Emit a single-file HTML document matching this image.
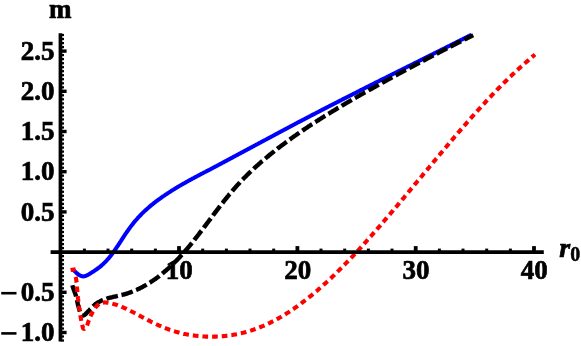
<!DOCTYPE html>
<html><head><meta charset="utf-8"><style>
html,body{margin:0;padding:0;background:#fff;}
svg{display:block;will-change:transform}
text{font-family:"Liberation Serif",serif;font-weight:bold;font-size:27px;fill:#000;stroke:#000;stroke-width:0.7px}
</style></head><body>
<svg width="581" height="346" viewBox="0 0 581 346">
<rect width="581" height="346" fill="#fff"/>
<g fill="none" stroke-linejoin="round">
<path d="M72.8,269.4 L73.4,270.0 L74.0,270.5 L74.6,271.1 L75.2,271.7 L75.8,272.3 L76.5,272.9 L77.1,273.4 L77.7,274.0 L78.4,274.5 L79.1,274.9 L79.7,275.3 L80.4,275.7 L81.1,276.0 L81.8,276.2 L82.5,276.3 L83.2,276.4 L83.9,276.3 L84.5,276.2 L85.2,276.0 L85.9,275.8 L86.6,275.5 L87.3,275.2 L88.0,274.8 L88.7,274.4 L89.4,274.0 L90.1,273.6 L90.8,273.1 L91.5,272.7 L92.2,272.2 L92.9,271.8 L93.6,271.3 L94.3,270.8 L94.9,270.4 L95.6,269.9 L96.3,269.5 L97.0,269.0 L97.6,268.5 L98.3,268.0 L98.9,267.6 L99.5,267.1 L100.2,266.6 L100.8,266.1 L101.4,265.6 L102.0,265.0 L102.6,264.5 L103.2,264.0 L103.8,263.4 L104.3,262.9 L104.9,262.3 L105.5,261.8 L106.0,261.2 L106.6,260.6 L107.1,260.0 L107.6,259.4 L108.1,258.9 L108.7,258.3 L109.2,257.6 L109.7,257.0 L110.2,256.4 L110.7,255.8 L111.2,255.2 L111.7,254.5 L112.1,253.9 L112.6,253.3 L113.1,252.6 L113.5,252.0 L114.0,251.3 L114.5,250.7 L114.9,250.0 L115.4,249.4 L115.8,248.7 L116.3,248.0 L116.7,247.4 L117.2,246.7 L117.6,246.0 L118.1,245.4 L118.5,244.7 L118.9,244.0 L119.4,243.4 L119.8,242.7 L120.2,242.0 L120.7,241.3 L121.1,240.7 L121.6,240.0 L122.0,239.3 L122.4,238.7 L122.9,238.0 L123.3,237.3 L123.7,236.7 L124.2,236.0 L124.6,235.3 L125.0,234.7 L125.5,234.0 L125.9,233.3 L126.4,232.7 L126.8,232.0 L127.3,231.4 L127.7,230.7 L128.2,230.1 L128.6,229.5 L129.1,228.8 L129.5,228.2 L130.0,227.6 L130.5,226.9 L130.9,226.3 L131.4,225.7 L131.9,225.1 L132.4,224.5 L132.9,223.9 L133.3,223.2 L133.8,222.6 L134.3,222.0 L134.8,221.4 L135.3,220.8 L135.8,220.3 L136.3,219.7 L136.9,219.1 L137.4,218.5 L137.9,217.9 L138.4,217.3 L139.0,216.8 L139.5,216.2 L140.0,215.6 L140.6,215.1 L141.1,214.5 L141.7,213.9 L142.2,213.4 L142.8,212.8 L143.4,212.3 L144.0,211.7 L144.5,211.2 L145.1,210.6 L145.7,210.1 L146.3,209.6 L146.9,209.0 L147.5,208.5 L148.1,208.0 L148.7,207.5 L149.3,206.9 L149.9,206.4 L150.5,205.9 L151.1,205.4 L151.7,204.9 L152.4,204.4 L153.0,203.9 L153.6,203.4 L154.2,202.9 L154.9,202.4 L155.5,201.9 L156.1,201.4 L156.8,200.9 L157.4,200.4 L158.1,200.0 L158.7,199.5 L159.4,199.0 L160.0,198.6 L160.7,198.1 L161.3,197.6 L162.0,197.2 L162.6,196.7 L163.3,196.2 L163.9,195.8 L164.6,195.3 L165.2,194.9 L165.9,194.4 L166.6,194.0 L167.2,193.6 L167.9,193.1 L168.6,192.7 L169.2,192.3 L169.9,191.8 L170.6,191.4 L171.2,191.0 L171.9,190.6 L172.6,190.1 L173.3,189.7 L173.9,189.3 L174.6,188.9 L175.3,188.5 L176.0,188.1 L176.7,187.6 L177.3,187.2 L178.0,186.8 L178.7,186.4 L179.4,186.0 L180.1,185.6 L180.8,185.2 L181.4,184.8 L182.1,184.4 L182.8,184.0 L183.5,183.6 L184.2,183.3 L184.9,182.9 L185.6,182.5 L186.3,182.1 L187.0,181.7 L187.7,181.3 L188.3,180.9 L189.0,180.5 L189.7,180.2 L190.4,179.8 L191.1,179.4 L191.8,179.0 L192.5,178.6 L193.2,178.3 L193.9,177.9 L194.6,177.5 L195.3,177.1 L196.0,176.8 L196.7,176.4 L197.4,176.0 L198.1,175.7 L198.8,175.3 L199.5,174.9 L200.2,174.5 L200.9,174.2 L201.6,173.8 L202.3,173.4 L203.0,173.1 L203.7,172.7 L204.4,172.3 L205.1,172.0 L205.9,171.6 L206.6,171.2 L207.3,170.9 L208.0,170.5 L208.7,170.1 L209.4,169.8 L210.1,169.4 L210.8,169.0 L211.5,168.7 L212.2,168.3 L212.9,167.9 L213.6,167.5 L214.3,167.2 L215.0,166.8 L215.7,166.4 L216.4,166.1 L217.1,165.7 L217.8,165.3 L218.5,165.0 L219.2,164.6 L219.9,164.2 L220.6,163.8 L221.3,163.5 L222.0,163.1 L222.7,162.7 L223.4,162.4 L224.1,162.0 L224.8,161.6 L225.5,161.2 L226.2,160.9 L226.9,160.5 L227.6,160.1 L228.3,159.7 L229.0,159.4 L229.7,159.0 L230.4,158.6 L231.1,158.2 L231.8,157.9 L232.5,157.5 L233.2,157.1 L233.9,156.7 L234.6,156.4 L235.3,156.0 L236.0,155.6 L236.7,155.2 L237.4,154.9 L238.1,154.5 L238.8,154.1 L239.5,153.7 L240.2,153.4 L240.9,153.0 L241.6,152.6 L242.3,152.2 L243.0,151.9 L243.7,151.5 L244.4,151.1 L245.1,150.7 L245.8,150.4 L246.5,150.0 L247.2,149.6 L247.9,149.2 L248.6,148.9 L249.3,148.5 L250.0,148.1 L250.7,147.7 L251.4,147.4 L252.1,147.0 L252.8,146.6 L253.5,146.2 L254.2,145.8 L254.9,145.5 L255.6,145.1 L256.3,144.7 L257.0,144.3 L257.7,144.0 L258.4,143.6 L259.1,143.2 L259.8,142.8 L260.5,142.5 L261.2,142.1 L261.9,141.7 L262.6,141.3 L263.3,140.9 L264.0,140.6 L264.7,140.2 L265.5,139.8 L266.2,139.4 L266.9,139.1 L267.6,138.7 L268.3,138.3 L269.0,137.9 L269.7,137.6 L270.4,137.2 L271.1,136.8 L271.8,136.4 L272.5,136.1 L273.2,135.7 L273.9,135.3 L274.6,134.9 L275.3,134.5 L276.0,134.2 L276.7,133.8 L277.4,133.4 L278.1,133.0 L278.8,132.7 L279.5,132.3 L280.2,131.9 L280.9,131.5 L281.6,131.2 L282.3,130.8 L283.0,130.4 L283.7,130.0 L284.4,129.7 L285.1,129.3 L285.8,128.9 L286.5,128.6 L287.2,128.2 L287.9,127.8 L288.6,127.4 L289.3,127.1 L290.0,126.7 L290.7,126.3 L291.4,125.9 L292.1,125.6 L292.8,125.2 L293.5,124.8 L294.2,124.5 L294.9,124.1 L295.6,123.7 L296.3,123.3 L297.0,123.0 L297.7,122.6 L298.4,122.2 L299.1,121.9 L299.8,121.5 L300.5,121.1 L301.2,120.8 L301.9,120.4 L302.6,120.0 L303.4,119.6 L304.1,119.3 L304.8,118.9 L305.5,118.5 L306.2,118.2 L306.9,117.8 L307.6,117.4 L308.3,117.1 L309.0,116.7 L309.7,116.3 L310.4,116.0 L311.1,115.6 L311.8,115.2 L312.5,114.9 L313.2,114.5 L313.9,114.1 L314.6,113.8 L315.3,113.4 L316.0,113.0 L316.7,112.7 L317.5,112.3 L318.2,111.9 L318.9,111.6 L319.6,111.2 L320.3,110.8 L321.0,110.5 L321.7,110.1 L322.4,109.7 L323.1,109.4 L323.8,109.0 L324.5,108.7 L325.2,108.3 L325.9,107.9 L326.6,107.6 L327.3,107.2 L328.0,106.8 L328.8,106.5 L329.5,106.1 L330.2,105.7 L330.9,105.4 L331.6,105.0 L332.3,104.7 L333.0,104.3 L333.7,103.9 L334.4,103.6 L335.1,103.2 L335.8,102.8 L336.5,102.5 L337.2,102.1 L337.9,101.8 L338.7,101.4 L339.4,101.0 L340.1,100.7 L340.8,100.3 L341.5,100.0 L342.2,99.6 L342.9,99.2 L343.6,98.9 L344.3,98.5 L345.0,98.1 L345.7,97.8 L346.4,97.4 L347.2,97.1 L347.9,96.7 L348.6,96.3 L349.3,96.0 L350.0,95.6 L350.7,95.3 L351.4,94.9 L352.1,94.6 L352.8,94.2 L353.5,93.8 L354.2,93.5 L354.9,93.1 L355.7,92.8 L356.4,92.4 L357.1,92.0 L357.8,91.7 L358.5,91.3 L359.2,91.0 L359.9,90.6 L360.6,90.2 L361.3,89.9 L362.0,89.5 L362.8,89.2 L363.5,88.8 L364.2,88.5 L364.9,88.1 L365.6,87.7 L366.3,87.4 L367.0,87.0 L367.7,86.7 L368.4,86.3 L369.1,86.0 L369.8,85.6 L370.6,85.2 L371.3,84.9 L372.0,84.5 L372.7,84.2 L373.4,83.8 L374.1,83.5 L374.8,83.1 L375.5,82.7 L376.2,82.4 L376.9,82.0 L377.7,81.7 L378.4,81.3 L379.1,81.0 L379.8,80.6 L380.5,80.2 L381.2,79.9 L381.9,79.5 L382.6,79.2 L383.3,78.8 L384.1,78.5 L384.8,78.1 L385.5,77.8 L386.2,77.4 L386.9,77.0 L387.6,76.7 L388.3,76.3 L389.0,76.0 L389.7,75.6 L390.4,75.3 L391.2,74.9 L391.9,74.6 L392.6,74.2 L393.3,73.8 L394.0,73.5 L394.7,73.1 L395.4,72.8 L396.1,72.4 L396.8,72.1 L397.6,71.7 L398.3,71.4 L399.0,71.0 L399.7,70.6 L400.4,70.3 L401.1,69.9 L401.8,69.6 L402.5,69.2 L403.2,68.9 L404.0,68.5 L404.7,68.2 L405.4,67.8 L406.1,67.4 L406.8,67.1 L407.5,66.7 L408.2,66.4 L408.9,66.0 L409.6,65.7 L410.4,65.3 L411.1,65.0 L411.8,64.6 L412.5,64.3 L413.2,63.9 L413.9,63.5 L414.6,63.2 L415.3,62.8 L416.0,62.5 L416.8,62.1 L417.5,61.8 L418.2,61.4 L418.9,61.1 L419.6,60.7 L420.3,60.3 L421.0,60.0 L421.7,59.6 L422.4,59.3 L423.2,58.9 L423.9,58.6 L424.6,58.2 L425.3,57.9 L426.0,57.5 L426.7,57.2 L427.4,56.8 L428.1,56.4 L428.8,56.1 L429.6,55.7 L430.3,55.4 L431.0,55.0 L431.7,54.7 L432.4,54.3 L433.1,54.0 L433.8,53.6 L434.5,53.2 L435.2,52.9 L436.0,52.5 L436.7,52.2 L437.4,51.8 L438.1,51.5 L438.8,51.1 L439.5,50.8 L440.2,50.4 L440.9,50.0 L441.6,49.7 L442.3,49.3 L443.1,49.0 L443.8,48.6 L444.5,48.3 L445.2,47.9 L445.9,47.6 L446.6,47.2 L447.3,46.8 L448.0,46.5 L448.7,46.1 L449.5,45.8 L450.2,45.4 L450.9,45.1 L451.6,44.7 L452.3,44.3 L453.0,44.0 L453.7,43.6 L454.4,43.3 L455.1,42.9 L455.9,42.6 L456.6,42.2 L457.3,41.9 L458.0,41.5 L458.7,41.1 L459.4,40.8 L460.1,40.4 L460.8,40.1 L461.5,39.7 L462.2,39.4 L463.0,39.0 L463.7,38.6 L464.4,38.3 L465.1,37.9 L465.8,37.6 L466.5,37.2 L467.2,36.8 L467.9,36.5 L468.6,36.1 L469.3,35.8 L470.1,35.4 L470.8,35.1 L471.5,34.7" stroke="#0000ff" stroke-width="4"/>
<path d="M72.4,285.3 L72.6,286.1 L72.9,287.0 L73.1,287.8 L73.4,288.6 L73.7,289.5 L74.0,290.3 L74.3,291.1 L74.6,292.0 L74.9,292.8 L75.2,293.6 L75.5,294.5 L75.8,295.3 L76.0,296.1 L76.2,296.9 L76.4,297.7 L76.6,298.5 L76.8,299.3 L77.0,300.1 L77.2,300.9 L77.4,301.8 L77.5,302.6 L77.7,303.4 L77.9,304.3 L78.1,305.1 L78.3,306.0 L78.6,306.9 L78.8,307.8 L79.1,308.7 L79.3,309.6 L79.6,310.5 L80.0,311.5 L80.3,312.5 L80.7,313.3 L81.2,314.1 L81.6,314.8 L82.1,315.2 L82.7,315.5 L83.2,315.5 L83.8,315.4 L84.4,315.1 L85.0,314.6 L85.7,314.0 L86.3,313.4 L86.9,312.7 L87.5,312.1 L88.2,311.4 L88.8,310.8 L89.4,310.1 L90.0,309.4 L90.7,308.8 L91.3,308.1 L91.9,307.5 L92.6,306.8 L93.2,306.2 L93.9,305.6 L94.6,305.0 L95.2,304.4 L95.9,303.9 L96.6,303.4 L97.4,302.9 L98.1,302.4 L98.8,302.0 L99.6,301.6 L100.3,301.2 L101.1,300.8 L101.9,300.4 L102.6,300.1 L103.4,299.8 L104.2,299.5 L105.0,299.2 L105.8,298.9 L106.6,298.6 L107.5,298.4 L108.3,298.2 L109.1,297.9 L110.0,297.7 L110.8,297.5 L111.6,297.3 L112.5,297.1 L113.3,296.9 L114.2,296.7 L115.1,296.5 L115.9,296.3 L116.8,296.1 L117.6,295.9 L118.5,295.7 L119.3,295.5 L120.2,295.3 L121.0,295.1 L121.9,294.9 L122.7,294.7 L123.6,294.5 L124.4,294.3 L125.3,294.0 L126.1,293.8 L127.0,293.5 L127.8,293.3 L128.6,293.0 L129.4,292.7 L130.3,292.4 L131.1,292.1 L131.9,291.8 L132.7,291.5 L133.5,291.2 L134.3,290.8 L135.1,290.5 L135.9,290.1 L136.7,289.8 L137.5,289.4 L138.3,289.0 L139.1,288.7 L139.9,288.3 L140.7,287.9 L141.5,287.5 L142.2,287.1 L143.0,286.7 L143.8,286.2 L144.5,285.8 L145.3,285.4 L146.0,285.0 L146.8,284.5 L147.5,284.1 L148.3,283.6 L149.0,283.1 L149.8,282.7 L150.5,282.2 L151.2,281.7 L152.0,281.2 L152.7,280.8 L153.4,280.3 L154.1,279.8 L154.8,279.3 L155.6,278.8 L156.3,278.2 L157.0,277.7 L157.7,277.2 L158.4,276.7 L159.0,276.2 L159.7,275.6 L160.4,275.1 L161.1,274.5 L161.8,274.0 L162.4,273.5 L163.1,272.9 L163.8,272.3 L164.4,271.8 L165.1,271.2 L165.7,270.7 L166.4,270.1 L167.0,269.5 L167.7,269.0 L168.3,268.4 L169.0,267.8 L169.6,267.2 L170.2,266.6 L170.9,266.0 L171.5,265.4 L172.1,264.8 L172.7,264.2 L173.4,263.6 L174.0,263.0 L174.6,262.4 L175.2,261.8 L175.8,261.2 L176.4,260.6 L177.0,260.0 L177.6,259.3 L178.2,258.7 L178.8,258.1 L179.4,257.5 L180.0,256.8 L180.5,256.2 L181.1,255.6 L181.7,254.9 L182.3,254.3 L182.9,253.6 L183.4,253.0 L184.0,252.3 L184.6,251.7 L185.1,251.0 L185.7,250.4 L186.3,249.7 L186.8,249.1 L187.4,248.4 L188.0,247.8 L188.5,247.1 L189.1,246.4 L189.6,245.8 L190.2,245.1 L190.7,244.4 L191.3,243.7 L191.8,243.1 L192.4,242.4 L192.9,241.7 L193.4,241.0 L194.0,240.4 L194.5,239.7 L195.1,239.0 L195.6,238.3 L196.1,237.6 L196.7,237.0 L197.2,236.3 L197.7,235.6 L198.3,234.9 L198.8,234.2 L199.3,233.5 L199.9,232.8 L200.4,232.1 L200.9,231.4 L201.5,230.8 L202.0,230.1 L202.5,229.4 L203.0,228.7 L203.6,228.0 L204.1,227.3 L204.6,226.6 L205.1,225.9 L205.7,225.2 L206.2,224.5 L206.7,223.8 L207.2,223.1 L207.8,222.4 L208.3,221.7 L208.8,221.0 L209.3,220.3 L209.9,219.6 L210.4,218.9 L210.9,218.2 L211.4,217.5 L212.0,216.8 L212.5,216.1 L213.0,215.4 L213.5,214.7 L214.1,214.0 L214.6,213.3 L215.1,212.6 L215.6,211.9 L216.2,211.2 L216.7,210.5 L217.2,209.8 L217.8,209.1 L218.3,208.4 L218.8,207.7 L219.4,207.0 L219.9,206.3 L220.4,205.6 L221.0,205.0 L221.5,204.3 L222.0,203.6 L222.6,202.9 L223.1,202.2 L223.7,201.5 L224.2,200.8 L224.7,200.1 L225.3,199.5 L225.8,198.8 L226.4,198.1 L226.9,197.4 L227.5,196.7 L228.0,196.1 L228.6,195.4 L229.1,194.7 L229.7,194.0 L230.3,193.4 L230.8,192.7 L231.4,192.0 L232.0,191.4 L232.5,190.7 L233.1,190.0 L233.7,189.4 L234.2,188.7 L234.8,188.1 L235.4,187.4 L236.0,186.7 L236.5,186.1 L237.1,185.4 L237.7,184.8 L238.3,184.2 L238.9,183.5 L239.5,182.9 L240.1,182.2 L240.7,181.6 L241.3,181.0 L241.9,180.3 L242.5,179.7 L243.1,179.1 L243.7,178.4 L244.3,177.8 L244.9,177.2 L245.6,176.6 L246.2,176.0 L246.8,175.3 L247.4,174.7 L248.0,174.1 L248.7,173.5 L249.3,172.9 L249.9,172.3 L250.6,171.7 L251.2,171.1 L251.8,170.5 L252.5,169.9 L253.1,169.3 L253.7,168.7 L254.4,168.1 L255.0,167.5 L255.7,166.9 L256.3,166.3 L257.0,165.7 L257.6,165.2 L258.3,164.6 L258.9,164.0 L259.6,163.4 L260.3,162.8 L260.9,162.3 L261.6,161.7 L262.2,161.1 L262.9,160.6 L263.6,160.0 L264.2,159.4 L264.9,158.9 L265.6,158.3 L266.2,157.7 L266.9,157.2 L267.6,156.6 L268.3,156.1 L268.9,155.5 L269.6,154.9 L270.3,154.4 L271.0,153.8 L271.7,153.3 L272.3,152.8 L273.0,152.2 L273.7,151.7 L274.4,151.1 L275.1,150.6 L275.8,150.0 L276.5,149.5 L277.1,149.0 L277.8,148.4 L278.5,147.9 L279.2,147.4 L279.9,146.8 L280.6,146.3 L281.3,145.8 L282.0,145.3 L282.7,144.7 L283.4,144.2 L284.1,143.7 L284.8,143.2 L285.5,142.6 L286.2,142.1 L286.9,141.6 L287.6,141.1 L288.3,140.6 L289.0,140.1 L289.7,139.6 L290.4,139.1 L291.1,138.5 L291.8,138.0 L292.5,137.5 L293.2,137.0 L293.9,136.5 L294.6,136.0 L295.3,135.5 L296.1,135.0 L296.8,134.5 L297.5,134.0 L298.2,133.5 L298.9,133.0 L299.6,132.5 L300.3,132.1 L301.0,131.6 L301.8,131.1 L302.5,130.6 L303.2,130.1 L303.9,129.6 L304.6,129.1 L305.4,128.6 L306.1,128.2 L306.8,127.7 L307.5,127.2 L308.2,126.7 L309.0,126.2 L309.7,125.8 L310.4,125.3 L311.1,124.8 L311.9,124.3 L312.6,123.9 L313.3,123.4 L314.0,122.9 L314.8,122.4 L315.5,122.0 L316.2,121.5 L316.9,121.0 L317.7,120.6 L318.4,120.1 L319.1,119.6 L319.9,119.2 L320.6,118.7 L321.3,118.2 L322.1,117.8 L322.8,117.3 L323.5,116.9 L324.3,116.4 L325.0,115.9 L325.7,115.5 L326.5,115.0 L327.2,114.6 L327.9,114.1 L328.7,113.7 L329.4,113.2 L330.2,112.8 L330.9,112.3 L331.6,111.9 L332.4,111.4 L333.1,111.0 L333.9,110.5 L334.6,110.1 L335.3,109.6 L336.1,109.2 L336.8,108.7 L337.6,108.3 L338.3,107.8 L339.1,107.4 L339.8,106.9 L340.6,106.5 L341.3,106.1 L342.0,105.6 L342.8,105.2 L343.5,104.7 L344.3,104.3 L345.0,103.9 L345.8,103.4 L346.5,103.0 L347.3,102.5 L348.0,102.1 L348.8,101.7 L349.5,101.2 L350.3,100.8 L351.0,100.4 L351.8,99.9 L352.6,99.5 L353.3,99.1 L354.1,98.6 L354.8,98.2 L355.6,97.8 L356.3,97.3 L357.1,96.9 L357.8,96.5 L358.6,96.0 L359.3,95.6 L360.1,95.2 L360.9,94.7 L361.6,94.3 L362.4,93.9 L363.1,93.5 L363.9,93.0 L364.6,92.6 L365.4,92.2 L366.2,91.7 L366.9,91.3 L367.7,90.9 L368.4,90.5 L369.2,90.0 L370.0,89.6 L370.7,89.2 L371.5,88.8 L372.3,88.3 L373.0,87.9 L373.8,87.5 L374.5,87.1 L375.3,86.6 L376.1,86.2 L376.8,85.8 L377.6,85.4 L378.4,84.9 L379.1,84.5 L379.9,84.1 L380.7,83.7 L381.4,83.3 L382.2,82.8 L382.9,82.4 L383.7,82.0 L384.5,81.6 L385.2,81.1 L386.0,80.7 L386.8,80.3 L387.5,79.9 L388.3,79.5 L389.1,79.0 L389.8,78.6 L390.6,78.2 L391.4,77.8 L392.2,77.4 L392.9,77.0 L393.7,76.5 L394.5,76.1 L395.2,75.7 L396.0,75.3 L396.8,74.9 L397.5,74.4 L398.3,74.0 L399.1,73.6 L399.8,73.2 L400.6,72.8 L401.4,72.4 L402.2,72.0 L402.9,71.5 L403.7,71.1 L404.5,70.7 L405.2,70.3 L406.0,69.9 L406.8,69.5 L407.6,69.1 L408.3,68.6 L409.1,68.2 L409.9,67.8 L410.6,67.4 L411.4,67.0 L412.2,66.6 L413.0,66.2 L413.7,65.8 L414.5,65.4 L415.3,64.9 L416.0,64.5 L416.8,64.1 L417.6,63.7 L418.4,63.3 L419.1,62.9 L419.9,62.5 L420.7,62.1 L421.5,61.7 L422.2,61.3 L423.0,60.9 L423.8,60.5 L424.6,60.1 L425.3,59.6 L426.1,59.2 L426.9,58.8 L427.6,58.4 L428.4,58.0 L429.2,57.6 L430.0,57.2 L430.7,56.8 L431.5,56.4 L432.3,56.0 L433.1,55.6 L433.8,55.2 L434.6,54.8 L435.4,54.4 L436.2,54.0 L436.9,53.6 L437.7,53.2 L438.5,52.8 L439.2,52.4 L440.0,52.0 L440.8,51.6 L441.6,51.2 L442.3,50.8 L443.1,50.4 L443.9,50.0 L444.7,49.6 L445.4,49.2 L446.2,48.8 L447.0,48.4 L447.7,48.0 L448.5,47.6 L449.3,47.2 L450.1,46.9 L450.8,46.5 L451.6,46.1 L452.4,45.7 L453.1,45.3 L453.9,44.9 L454.7,44.5 L455.5,44.1 L456.2,43.7 L457.0,43.3 L457.8,42.9 L458.5,42.5 L459.3,42.1 L460.1,41.8 L460.9,41.4 L461.6,41.0 L462.4,40.6 L463.2,40.2 L463.9,39.8 L464.7,39.4 L465.5,39.0 L466.2,38.7 L467.0,38.3 L467.8,37.9 L468.6,37.5 L469.3,37.1 L470.1,36.7 L470.9,36.3 L471.6,36.0 L472.4,35.6 L473.2,35.2" stroke="#000" stroke-width="4.4" stroke-dasharray="11.8 3.7"/>
<path d="M74.7,273.7 L75.1,274.7 L75.4,275.7 L75.6,276.7 L75.9,277.8 L76.1,278.9 L76.3,280.0 L76.4,281.1 L76.5,282.2 L76.7,283.3 L76.8,284.4 L76.9,285.5 L76.9,286.6 L77.0,287.7 L77.1,288.8 L77.2,289.9 L77.3,291.0 L77.4,292.1 L77.5,293.2 L77.6,294.3 L77.7,295.3 L77.8,296.4 L77.9,297.5 L78.0,298.5 L78.2,299.6 L78.3,300.7 L78.4,301.7 L78.5,302.8 L78.7,303.9 L78.8,304.9 L79.0,306.0 L79.1,307.1 L79.2,308.2 L79.4,309.2 L79.6,310.3 L79.7,311.4 L79.9,312.5 L80.1,313.6 L80.2,314.7 L80.4,315.8 L80.6,316.9 L80.8,318.0 L81.0,319.1 L81.2,320.2 L81.4,321.2 L81.7,322.3 L81.9,323.4 L82.1,324.5 L82.4,325.6 L82.6,326.6 L82.9,327.6 L83.2,328.5 L83.8,328.9 L84.6,328.8 L85.4,328.3 L86.0,327.5 L86.6,326.4 L87.1,325.2 L87.6,323.9 L88.0,322.7 L88.4,321.6 L88.8,320.6 L89.2,319.6 L89.5,318.6 L89.9,317.7 L90.3,316.8 L90.7,315.9 L91.1,315.0 L91.6,314.0 L92.1,313.0 L92.6,312.0 L93.2,311.0 L93.8,310.0 L94.4,309.0 L95.1,308.1 L95.8,307.1 L96.5,306.3 L97.3,305.5 L98.1,304.7 L99.0,304.1 L99.9,303.5 L100.8,303.1 L101.7,302.8 L102.7,302.6 L103.8,302.5 L104.8,302.4 L105.9,302.5 L106.9,302.6 L108.0,302.7 L109.1,302.9 L110.2,303.1 L111.2,303.4 L112.3,303.6 L113.3,303.9 L114.4,304.2 L115.4,304.5 L116.5,304.8 L117.5,305.2 L118.5,305.6 L119.6,305.9 L120.6,306.3 L121.6,306.8 L122.6,307.2 L123.6,307.6 L124.6,308.1 L125.7,308.5 L126.7,309.0 L127.7,309.5 L128.6,310.0 L129.6,310.5 L130.6,311.0 L131.6,311.5 L132.6,312.0 L133.6,312.5 L134.6,313.0 L135.5,313.5 L136.5,314.1 L137.5,314.6 L138.5,315.1 L139.4,315.6 L140.4,316.2 L141.4,316.7 L142.3,317.2 L143.3,317.7 L144.3,318.2 L145.2,318.7 L146.2,319.2 L147.2,319.7 L148.1,320.2 L149.1,320.7 L150.1,321.2 L151.0,321.7 L152.0,322.2 L153.0,322.6 L153.9,323.1 L154.9,323.6 L155.9,324.0 L156.9,324.5 L157.8,324.9 L158.8,325.4 L159.8,325.8 L160.8,326.2 L161.7,326.6 L162.7,327.1 L163.7,327.5 L164.7,327.9 L165.7,328.3 L166.7,328.6 L167.7,329.0 L168.7,329.4 L169.7,329.8 L170.7,330.1 L171.7,330.5 L172.7,330.8 L173.8,331.1 L174.8,331.4 L175.8,331.7 L176.9,332.0 L177.9,332.3 L178.9,332.6 L180.0,332.9 L181.0,333.1 L182.1,333.4 L183.1,333.6 L184.2,333.9 L185.3,334.1 L186.3,334.3 L187.4,334.5 L188.5,334.7 L189.6,334.9 L190.6,335.1 L191.7,335.2 L192.8,335.4 L193.9,335.5 L195.0,335.7 L196.1,335.8 L197.2,335.9 L198.3,336.0 L199.4,336.1 L200.5,336.2 L201.6,336.3 L202.7,336.4 L203.8,336.5 L204.9,336.5 L206.0,336.6 L207.1,336.6 L208.2,336.6 L209.3,336.7 L210.4,336.7 L211.5,336.7 L212.6,336.7 L213.7,336.6 L214.8,336.6 L215.9,336.6 L217.0,336.5 L218.1,336.5 L219.2,336.4 L220.3,336.4 L221.4,336.3 L222.5,336.2 L223.6,336.1 L224.7,336.0 L225.8,335.9 L226.9,335.7 L228.0,335.6 L229.1,335.5 L230.2,335.3 L231.3,335.1 L232.4,335.0 L233.5,334.8 L234.6,334.6 L235.6,334.4 L236.7,334.2 L237.8,334.0 L238.9,333.8 L239.9,333.5 L241.0,333.3 L242.0,333.0 L243.1,332.8 L244.2,332.5 L245.2,332.2 L246.3,331.9 L247.3,331.6 L248.3,331.3 L249.4,331.0 L250.4,330.7 L251.4,330.4 L252.5,330.0 L253.5,329.7 L254.5,329.3 L255.5,329.0 L256.5,328.6 L257.5,328.2 L258.5,327.8 L259.5,327.4 L260.5,327.0 L261.5,326.6 L262.5,326.2 L263.5,325.8 L264.5,325.3 L265.5,324.9 L266.5,324.5 L267.4,324.0 L268.4,323.5 L269.4,323.1 L270.3,322.6 L271.3,322.1 L272.3,321.6 L273.2,321.2 L274.2,320.7 L275.1,320.1 L276.1,319.6 L277.0,319.1 L278.0,318.6 L278.9,318.1 L279.8,317.5 L280.8,317.0 L281.7,316.4 L282.6,315.9 L283.6,315.3 L284.5,314.8 L285.4,314.2 L286.3,313.6 L287.2,313.0 L288.1,312.5 L289.1,311.9 L290.0,311.3 L290.9,310.7 L291.8,310.1 L292.7,309.5 L293.6,308.9 L294.4,308.2 L295.3,307.6 L296.2,307.0 L297.1,306.4 L298.0,305.7 L298.9,305.1 L299.7,304.4 L300.6,303.8 L301.5,303.1 L302.4,302.5 L303.2,301.8 L304.1,301.2 L304.9,300.5 L305.8,299.8 L306.7,299.2 L307.5,298.5 L308.4,297.8 L309.2,297.1 L310.1,296.4 L310.9,295.8 L311.8,295.1 L312.6,294.4 L313.4,293.7 L314.3,293.0 L315.1,292.3 L315.9,291.6 L316.8,290.9 L317.6,290.2 L318.4,289.4 L319.2,288.7 L320.1,288.0 L320.9,287.3 L321.7,286.6 L322.5,285.8 L323.3,285.1 L324.1,284.4 L325.0,283.7 L325.8,282.9 L326.6,282.2 L327.4,281.4 L328.2,280.7 L329.0,280.0 L329.8,279.2 L330.6,278.5 L331.4,277.7 L332.1,277.0 L332.9,276.2 L333.7,275.5 L334.5,274.7 L335.3,273.9 L336.1,273.2 L336.9,272.4 L337.6,271.7 L338.4,270.9 L339.2,270.1 L340.0,269.3 L340.7,268.6 L341.5,267.8 L342.3,267.0 L343.1,266.2 L343.8,265.5 L344.6,264.7 L345.3,263.9 L346.1,263.1 L346.9,262.3 L347.6,261.6 L348.4,260.8 L349.1,260.0 L349.9,259.2 L350.7,258.4 L351.4,257.6 L352.2,256.8 L352.9,256.0 L353.7,255.2 L354.4,254.4 L355.1,253.6 L355.9,252.8 L356.6,252.0 L357.4,251.2 L358.1,250.4 L358.9,249.6 L359.6,248.8 L360.3,248.0 L361.1,247.2 L361.8,246.4 L362.5,245.6 L363.3,244.7 L364.0,243.9 L364.7,243.1 L365.5,242.3 L366.2,241.5 L366.9,240.7 L367.6,239.9 L368.4,239.0 L369.1,238.2 L369.8,237.4 L370.5,236.6 L371.3,235.8 L372.0,235.0 L372.7,234.1 L373.4,233.3 L374.1,232.5 L374.9,231.7 L375.6,230.9 L376.3,230.0 L377.0,229.2 L377.7,228.4 L378.4,227.6 L379.2,226.8 L379.9,225.9 L380.6,225.1 L381.3,224.3 L382.0,223.5 L382.7,222.6 L383.4,221.8 L384.1,221.0 L384.8,220.2 L385.5,219.3 L386.3,218.5 L387.0,217.7 L387.7,216.9 L388.4,216.0 L389.1,215.2 L389.8,214.4 L390.5,213.5 L391.2,212.7 L391.9,211.9 L392.6,211.1 L393.3,210.2 L394.0,209.4 L394.7,208.6 L395.4,207.7 L396.1,206.9 L396.8,206.1 L397.5,205.3 L398.2,204.4 L398.9,203.6 L399.6,202.8 L400.3,201.9 L401.0,201.1 L401.7,200.3 L402.4,199.4 L403.1,198.6 L403.8,197.8 L404.5,196.9 L405.1,196.1 L405.8,195.3 L406.5,194.5 L407.2,193.6 L407.9,192.8 L408.6,192.0 L409.3,191.1 L410.0,190.3 L410.7,189.5 L411.4,188.6 L412.1,187.8 L412.8,187.0 L413.5,186.1 L414.2,185.3 L414.8,184.5 L415.5,183.6 L416.2,182.8 L416.9,182.0 L417.6,181.1 L418.3,180.3 L419.0,179.5 L419.7,178.6 L420.4,177.8 L421.1,177.0 L421.8,176.1 L422.5,175.3 L423.1,174.5 L423.8,173.6 L424.5,172.8 L425.2,172.0 L425.9,171.1 L426.6,170.3 L427.3,169.5 L428.0,168.6 L428.7,167.8 L429.4,167.0 L430.1,166.1 L430.8,165.3 L431.5,164.5 L432.1,163.6 L432.8,162.8 L433.5,162.0 L434.2,161.1 L434.9,160.3 L435.6,159.5 L436.3,158.6 L437.0,157.8 L437.7,157.0 L438.4,156.1 L439.1,155.3 L439.8,154.5 L440.5,153.6 L441.2,152.8 L441.9,152.0 L442.6,151.1 L443.3,150.3 L444.0,149.5 L444.7,148.6 L445.4,147.8 L446.1,147.0 L446.8,146.2 L447.5,145.3 L448.2,144.5 L448.9,143.7 L449.6,142.8 L450.3,142.0 L451.0,141.2 L451.7,140.4 L452.4,139.5 L453.1,138.7 L453.8,137.9 L454.5,137.0 L455.2,136.2 L455.9,135.4 L456.6,134.6 L457.3,133.7 L458.0,132.9 L458.7,132.1 L459.5,131.3 L460.2,130.4 L460.9,129.6 L461.6,128.8 L462.3,128.0 L463.0,127.2 L463.7,126.3 L464.4,125.5 L465.2,124.7 L465.9,123.9 L466.6,123.0 L467.3,122.2 L468.0,121.4 L468.8,120.6 L469.5,119.8 L470.2,118.9 L470.9,118.1 L471.6,117.3 L472.4,116.5 L473.1,115.7 L473.8,114.9 L474.5,114.1 L475.3,113.2 L476.0,112.4 L476.7,111.6 L477.5,110.8 L478.2,110.0 L478.9,109.2 L479.7,108.4 L480.4,107.6 L481.1,106.8 L481.9,106.0 L482.6,105.2 L483.3,104.4 L484.1,103.6 L484.8,102.8 L485.6,102.0 L486.3,101.2 L487.0,100.4 L487.8,99.6 L488.5,98.8 L489.3,98.0 L490.0,97.2 L490.8,96.4 L491.5,95.6 L492.3,94.8 L493.0,94.0 L493.8,93.2 L494.5,92.4 L495.3,91.7 L496.1,90.9 L496.8,90.1 L497.6,89.3 L498.3,88.5 L499.1,87.7 L499.9,87.0 L500.6,86.2 L501.4,85.4 L502.2,84.7 L502.9,83.9 L503.7,83.1 L504.5,82.3 L505.3,81.6 L506.0,80.8 L506.8,80.1 L507.6,79.3 L508.4,78.5 L509.2,77.8 L509.9,77.0 L510.7,76.3 L511.5,75.5 L512.3,74.8 L513.1,74.0 L513.9,73.3 L514.7,72.5 L515.5,71.8 L516.3,71.0 L517.1,70.3 L517.9,69.6 L518.7,68.8 L519.5,68.1 L520.3,67.4 L521.1,66.6 L521.9,65.9 L522.7,65.2 L523.5,64.4 L524.3,63.7 L525.1,63.0 L525.9,62.3 L526.8,61.6 L527.6,60.9 L528.4,60.2 L529.2,59.4 L530.0,58.7 L530.9,58.0 L531.7,57.3 L532.5,56.6 L533.4,55.9 L534.2,55.2 L535.0,54.5" stroke="#ff0000" stroke-width="4.1" stroke-dasharray="5.7 3.97" stroke-dashoffset="6.33"/>
<polygon points="70.3,268.0 75.3,267.2 76.0,271.2 70.9,272.0" fill="#ff0000" stroke="none"/>
</g>
<g stroke="#000" fill="none">
<line x1="50.6" y1="252.1" x2="543.8" y2="252.1" stroke-width="3.8"/>
<line x1="60.45" y1="33.3" x2="60.45" y2="341.5" stroke-width="3.7"/>
<line x1="84.4" y1="252.1" x2="84.4" y2="248.6" stroke-width="3"/><line x1="108.0" y1="252.1" x2="108.0" y2="248.6" stroke-width="3"/><line x1="131.7" y1="252.1" x2="131.7" y2="248.6" stroke-width="3"/><line x1="155.4" y1="252.1" x2="155.4" y2="248.6" stroke-width="3"/><line x1="179.0" y1="252.1" x2="179.0" y2="246.1" stroke-width="3.8"/><line x1="202.7" y1="252.1" x2="202.7" y2="248.6" stroke-width="3"/><line x1="226.4" y1="252.1" x2="226.4" y2="248.6" stroke-width="3"/><line x1="250.0" y1="252.1" x2="250.0" y2="248.6" stroke-width="3"/><line x1="273.7" y1="252.1" x2="273.7" y2="248.6" stroke-width="3"/><line x1="297.4" y1="252.1" x2="297.4" y2="246.1" stroke-width="3.8"/><line x1="321.0" y1="252.1" x2="321.0" y2="248.6" stroke-width="3"/><line x1="344.7" y1="252.1" x2="344.7" y2="248.6" stroke-width="3"/><line x1="368.4" y1="252.1" x2="368.4" y2="248.6" stroke-width="3"/><line x1="392.0" y1="252.1" x2="392.0" y2="248.6" stroke-width="3"/><line x1="415.7" y1="252.1" x2="415.7" y2="246.1" stroke-width="3.8"/><line x1="439.4" y1="252.1" x2="439.4" y2="248.6" stroke-width="3"/><line x1="463.0" y1="252.1" x2="463.0" y2="248.6" stroke-width="3"/><line x1="486.7" y1="252.1" x2="486.7" y2="248.6" stroke-width="3"/><line x1="510.4" y1="252.1" x2="510.4" y2="248.6" stroke-width="3"/><line x1="534.0" y1="252.1" x2="534.0" y2="246.1" stroke-width="3.8"/>
<line x1="60.7" y1="340.5" x2="64.0" y2="340.5" stroke-width="2.2"/><line x1="60.7" y1="336.5" x2="64.0" y2="336.5" stroke-width="2.2"/><line x1="60.7" y1="332.5" x2="66.6" y2="332.5" stroke-width="3.4"/><line x1="60.7" y1="328.5" x2="64.0" y2="328.5" stroke-width="2.2"/><line x1="60.7" y1="324.5" x2="64.0" y2="324.5" stroke-width="2.2"/><line x1="60.7" y1="320.4" x2="64.0" y2="320.4" stroke-width="2.2"/><line x1="60.7" y1="316.4" x2="64.0" y2="316.4" stroke-width="2.2"/><line x1="60.7" y1="312.4" x2="64.0" y2="312.4" stroke-width="2.2"/><line x1="60.7" y1="308.4" x2="64.0" y2="308.4" stroke-width="2.2"/><line x1="60.7" y1="304.4" x2="64.0" y2="304.4" stroke-width="2.2"/><line x1="60.7" y1="300.3" x2="64.0" y2="300.3" stroke-width="2.2"/><line x1="60.7" y1="296.3" x2="64.0" y2="296.3" stroke-width="2.2"/><line x1="60.7" y1="292.3" x2="66.6" y2="292.3" stroke-width="3.4"/><line x1="60.7" y1="288.3" x2="64.0" y2="288.3" stroke-width="2.2"/><line x1="60.7" y1="284.3" x2="64.0" y2="284.3" stroke-width="2.2"/><line x1="60.7" y1="280.2" x2="64.0" y2="280.2" stroke-width="2.2"/><line x1="60.7" y1="276.2" x2="64.0" y2="276.2" stroke-width="2.2"/><line x1="60.7" y1="272.2" x2="64.0" y2="272.2" stroke-width="2.2"/><line x1="60.7" y1="268.2" x2="64.0" y2="268.2" stroke-width="2.2"/><line x1="60.7" y1="264.2" x2="64.0" y2="264.2" stroke-width="2.2"/><line x1="60.7" y1="260.1" x2="64.0" y2="260.1" stroke-width="2.2"/><line x1="60.7" y1="256.1" x2="64.0" y2="256.1" stroke-width="2.2"/><line x1="60.7" y1="248.1" x2="64.0" y2="248.1" stroke-width="2.2"/><line x1="60.7" y1="244.1" x2="64.0" y2="244.1" stroke-width="2.2"/><line x1="60.7" y1="240.0" x2="64.0" y2="240.0" stroke-width="2.2"/><line x1="60.7" y1="236.0" x2="64.0" y2="236.0" stroke-width="2.2"/><line x1="60.7" y1="232.0" x2="64.0" y2="232.0" stroke-width="2.2"/><line x1="60.7" y1="228.0" x2="64.0" y2="228.0" stroke-width="2.2"/><line x1="60.7" y1="224.0" x2="64.0" y2="224.0" stroke-width="2.2"/><line x1="60.7" y1="219.9" x2="64.0" y2="219.9" stroke-width="2.2"/><line x1="60.7" y1="215.9" x2="64.0" y2="215.9" stroke-width="2.2"/><line x1="60.7" y1="211.9" x2="66.6" y2="211.9" stroke-width="3.4"/><line x1="60.7" y1="207.9" x2="64.0" y2="207.9" stroke-width="2.2"/><line x1="60.7" y1="203.9" x2="64.0" y2="203.9" stroke-width="2.2"/><line x1="60.7" y1="199.8" x2="64.0" y2="199.8" stroke-width="2.2"/><line x1="60.7" y1="195.8" x2="64.0" y2="195.8" stroke-width="2.2"/><line x1="60.7" y1="191.8" x2="64.0" y2="191.8" stroke-width="2.2"/><line x1="60.7" y1="187.8" x2="64.0" y2="187.8" stroke-width="2.2"/><line x1="60.7" y1="183.8" x2="64.0" y2="183.8" stroke-width="2.2"/><line x1="60.7" y1="179.7" x2="64.0" y2="179.7" stroke-width="2.2"/><line x1="60.7" y1="175.7" x2="64.0" y2="175.7" stroke-width="2.2"/><line x1="60.7" y1="171.7" x2="66.6" y2="171.7" stroke-width="3.4"/><line x1="60.7" y1="167.7" x2="64.0" y2="167.7" stroke-width="2.2"/><line x1="60.7" y1="163.7" x2="64.0" y2="163.7" stroke-width="2.2"/><line x1="60.7" y1="159.6" x2="64.0" y2="159.6" stroke-width="2.2"/><line x1="60.7" y1="155.6" x2="64.0" y2="155.6" stroke-width="2.2"/><line x1="60.7" y1="151.6" x2="64.0" y2="151.6" stroke-width="2.2"/><line x1="60.7" y1="147.6" x2="64.0" y2="147.6" stroke-width="2.2"/><line x1="60.7" y1="143.6" x2="64.0" y2="143.6" stroke-width="2.2"/><line x1="60.7" y1="139.5" x2="64.0" y2="139.5" stroke-width="2.2"/><line x1="60.7" y1="135.5" x2="64.0" y2="135.5" stroke-width="2.2"/><line x1="60.7" y1="131.5" x2="66.6" y2="131.5" stroke-width="3.4"/><line x1="60.7" y1="127.5" x2="64.0" y2="127.5" stroke-width="2.2"/><line x1="60.7" y1="123.5" x2="64.0" y2="123.5" stroke-width="2.2"/><line x1="60.7" y1="119.4" x2="64.0" y2="119.4" stroke-width="2.2"/><line x1="60.7" y1="115.4" x2="64.0" y2="115.4" stroke-width="2.2"/><line x1="60.7" y1="111.4" x2="64.0" y2="111.4" stroke-width="2.2"/><line x1="60.7" y1="107.4" x2="64.0" y2="107.4" stroke-width="2.2"/><line x1="60.7" y1="103.4" x2="64.0" y2="103.4" stroke-width="2.2"/><line x1="60.7" y1="99.3" x2="64.0" y2="99.3" stroke-width="2.2"/><line x1="60.7" y1="95.3" x2="64.0" y2="95.3" stroke-width="2.2"/><line x1="60.7" y1="91.3" x2="66.6" y2="91.3" stroke-width="3.4"/><line x1="60.7" y1="87.3" x2="64.0" y2="87.3" stroke-width="2.2"/><line x1="60.7" y1="83.3" x2="64.0" y2="83.3" stroke-width="2.2"/><line x1="60.7" y1="79.2" x2="64.0" y2="79.2" stroke-width="2.2"/><line x1="60.7" y1="75.2" x2="64.0" y2="75.2" stroke-width="2.2"/><line x1="60.7" y1="71.2" x2="64.0" y2="71.2" stroke-width="2.2"/><line x1="60.7" y1="67.2" x2="64.0" y2="67.2" stroke-width="2.2"/><line x1="60.7" y1="63.2" x2="64.0" y2="63.2" stroke-width="2.2"/><line x1="60.7" y1="59.1" x2="64.0" y2="59.1" stroke-width="2.2"/><line x1="60.7" y1="55.1" x2="64.0" y2="55.1" stroke-width="2.2"/><line x1="60.7" y1="51.1" x2="66.6" y2="51.1" stroke-width="3.4"/><line x1="60.7" y1="47.1" x2="64.0" y2="47.1" stroke-width="2.2"/><line x1="60.7" y1="43.1" x2="64.0" y2="43.1" stroke-width="2.2"/><line x1="60.7" y1="39.0" x2="64.0" y2="39.0" stroke-width="2.2"/><line x1="60.7" y1="35.0" x2="64.0" y2="35.0" stroke-width="2.2"/>
</g>
<text x="54.6" y="59.7" text-anchor="end">2.5</text><text x="54.6" y="99.9" text-anchor="end">2.0</text><text x="54.6" y="140.1" text-anchor="end">1.5</text><text x="54.6" y="180.3" text-anchor="end">1.0</text><text x="54.6" y="220.5" text-anchor="end">0.5</text><text x="54.6" y="300.9" text-anchor="end">0.5</text><line x1="1.2" y1="293.2" x2="16.5" y2="293.2" stroke="#000" stroke-width="2.6"/><text x="54.6" y="341.1" text-anchor="end">1.0</text><line x1="1.2" y1="333.4" x2="16.5" y2="333.4" stroke="#000" stroke-width="2.6"/><text x="179.3" y="279" text-anchor="middle">10</text><text x="297.7" y="279" text-anchor="middle">20</text><text x="416.0" y="279" text-anchor="middle">30</text><text x="534.3" y="279" text-anchor="middle">40</text>
<text x="60.3" y="18.2" text-anchor="middle">m</text>
<text x="559.3" y="256.6" style="font-style:italic;font-size:28px">r</text><text x="570.3" y="261.3" style="font-size:20px;stroke-width:0.5px">0</text>
</svg>
</body></html>
